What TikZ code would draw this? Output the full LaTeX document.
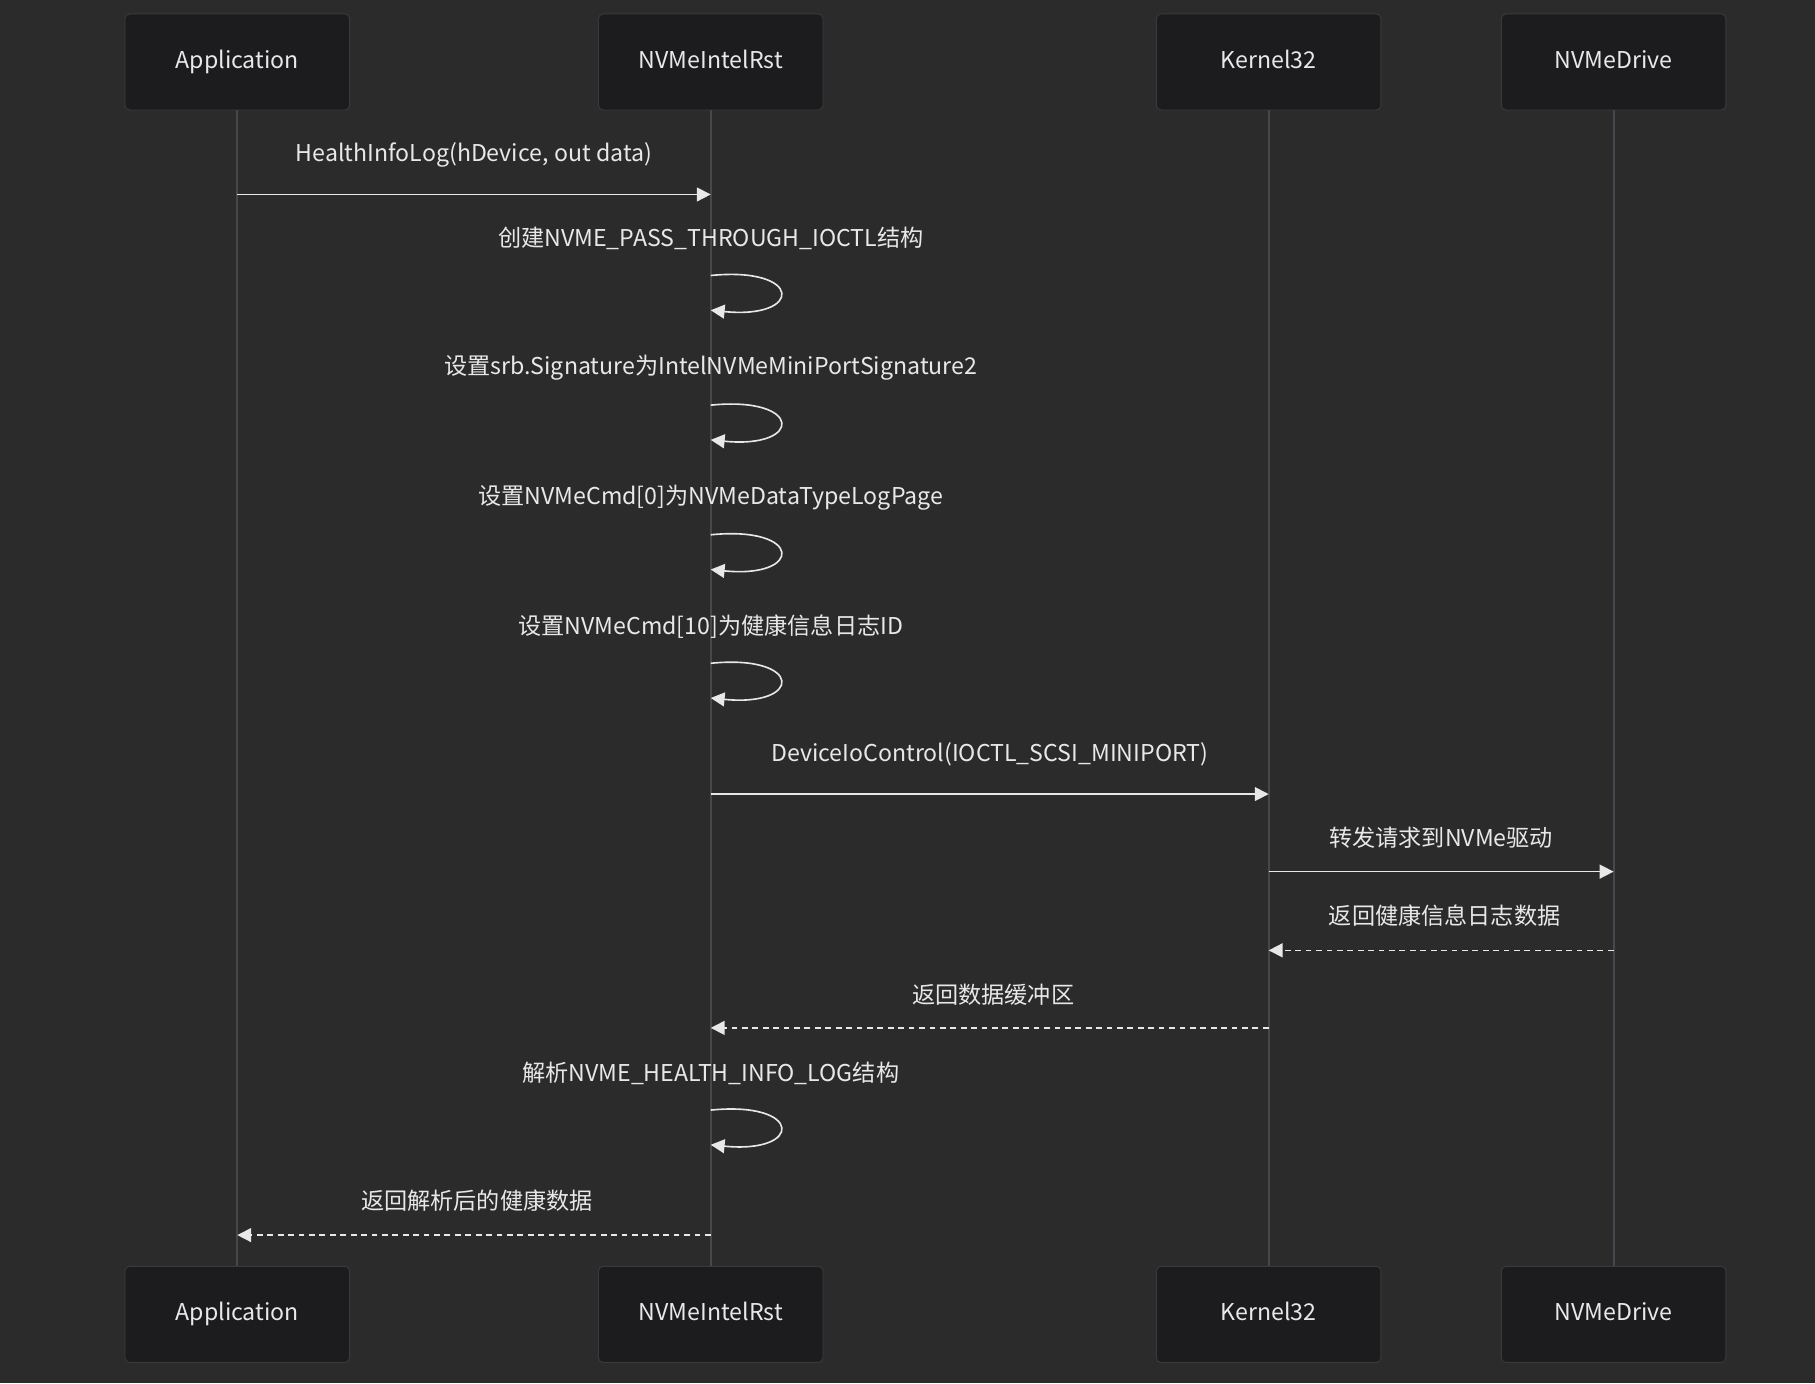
\documentclass[tikz,border=0pt]{standalone}
\usepackage{fontspec}
\setmainfont{Noto Sans CJK SC}
\usetikzlibrary{arrows.meta}
\definecolor{bg}{HTML}{2B2B2B}
\definecolor{boxbg}{HTML}{1C1C1E}
\definecolor{boxline}{HTML}{3A3A3C}
\definecolor{life}{HTML}{45484D}
\definecolor{txt}{HTML}{E8E8E8}
\tikzset{
  actor/.style={draw=boxline, fill=boxbg, rounded corners=2pt, minimum width=97pt, minimum height=41.5pt, text=txt, font=\fontsize{10}{12}\selectfont, inner sep=0pt, text height=7.5pt, text depth=2pt},
  lbl/.style={text=txt, font=\fontsize{10}{12}\selectfont, inner sep=1pt},
  msg/.style={draw=txt, line width=0.7pt, -{Triangle[length=6pt,width=6pt]}},
  ret/.style={msg, dash pattern=on 2.5pt off 2pt},
  lifeline/.style={draw=life, line width=0.8pt}
}
\begin{document}
\begin{tikzpicture}[x=0.5pt,y=-0.5pt]
\fill[bg] (0,0) rectangle (1568,1195);
\useasboundingbox (0,0) rectangle (1568,1195);
\foreach \n/\t/\x in {a/Application/205, n/NVMeIntelRst/614, k/Kernel32/1096, d/NVMeDrive/1394}{
  \draw[lifeline] (\x,95) -- (\x,1094);
  \node[actor] (\n top) at (\x,53.5) {\t};
  \node[actor] (\n bot) at (\x,1135.5) {\t};
}
% message endpoints on lifelines
\coordinate (a1) at (205,168); \coordinate (n1) at (614,168);
\node[lbl] (l1) at (409.5,134) {HealthInfoLog(hDevice, out data)};
\draw[msg] (a1) -- (n1);

\foreach \y/\t [count=\i] in {238/创建NVME\_PASS\_THROUGH\_IOCTL结构, 350/设置srb.Signature为IntelNVMeMiniPortSignature2, 462/设置NVMeCmd[0]为NVMeDataTypeLogPage, 573/设置NVMeCmd[10]为健康信息日志ID, 959/解析NVME\_HEALTH\_INFO\_LOG结构}{
  \coordinate (s\i) at (614,\y);
  \coordinate (e\i) at (614,\y+30);
  \node[lbl] (ls\i) at (614,\y-32) {\t};
  \draw[msg] (s\i) .. controls (694,\y-8) and (694,\y+38) .. (e\i);
}

\coordinate (n2) at (614,686); \coordinate (k2) at (1096,686);
\node[lbl] (l2) at (855,652) {DeviceIoControl(IOCTL\_SCSI\_MINIPORT)};
\draw[msg] (n2) -- (k2);

\coordinate (k3) at (1096,753); \coordinate (d3) at (1394,753);
\node[lbl] (l3) at (1245,724) {转发请求到NVMe驱动};
\draw[msg] (k3) -- (d3);

\coordinate (d4) at (1394,821); \coordinate (k4) at (1096,821);
\node[lbl] (l4) at (1248,791) {返回健康信息日志数据};
\draw[ret] (d4) -- (k4);

\coordinate (k5) at (1096,888); \coordinate (n5) at (614,888);
\node[lbl] (l5) at (858,859) {返回数据缓冲区};
\draw[ret] (k5) -- (n5);

\coordinate (n6) at (614,1067); \coordinate (a6) at (205,1067);
\node[lbl] (l6) at (412,1037) {返回解析后的健康数据};
\draw[ret] (n6) -- (a6);
\end{tikzpicture}
\end{document}
